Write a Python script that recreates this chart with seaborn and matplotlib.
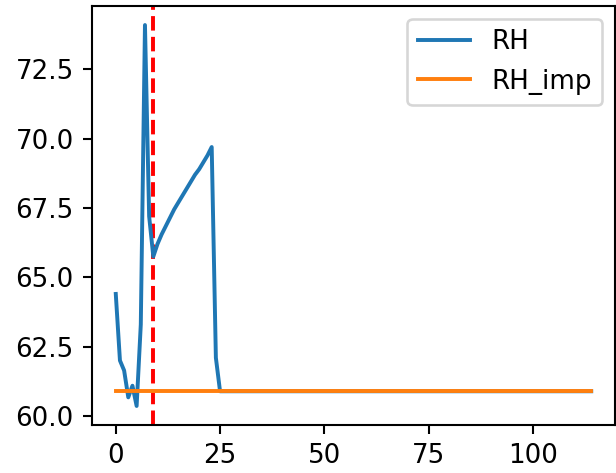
import numpy as np
import pandas as pd
import matplotlib
matplotlib.use("Agg")
import matplotlib.pyplot as plt
from matplotlib.ticker import MultipleLocator, FormatStrFormatter
import seaborn as sns

# RH values (index 0..114), after index 25 it sits on the imputed level
rh_head = [64.4, 62.0, 61.64, 60.67, 61.09, 60.36, 63.3, 74.1, 67.2,
           65.75, 66.2, 66.55, 66.85, 67.15, 67.45, 67.7, 67.95, 68.2,
           68.45, 68.7, 68.9, 69.15, 69.4, 69.7, 62.1]
rh_imp_level = 60.89
n_points = 115
cut_index = 9

rh = rh_head + [rh_imp_level] * (n_points - len(rh_head))
rh_imp = [rh_imp_level] * n_points

df = pd.DataFrame({"idx": np.arange(n_points), "RH": rh, "RH_imp": rh_imp})

dpi = 188
fig = plt.figure(figsize=(616 / dpi, 473 / dpi), dpi=dpi)
ax = fig.add_axes([92 / 616, 1 - 425 / 473, (615 - 92) / 616, (425 - 6) / 473])

ax.axvline(cut_index, color="red", linestyle="--", linewidth=1.5, zorder=1.5)
sns.lineplot(data=df, x="idx", y="RH", ax=ax, color="#1f77b4", linewidth=1.5, label="RH")
sns.lineplot(data=df, x="idx", y="RH_imp", ax=ax, color="#ff7f0e", linewidth=1.5, label="RH_imp")

ax.yaxis.set_major_locator(MultipleLocator(2.5))
ax.yaxis.set_major_formatter(FormatStrFormatter("%.1f"))
ax.set_xlabel("")
ax.set_ylabel("")
ax.legend(loc="upper right")

fig.savefig("out.png", dpi=dpi)
